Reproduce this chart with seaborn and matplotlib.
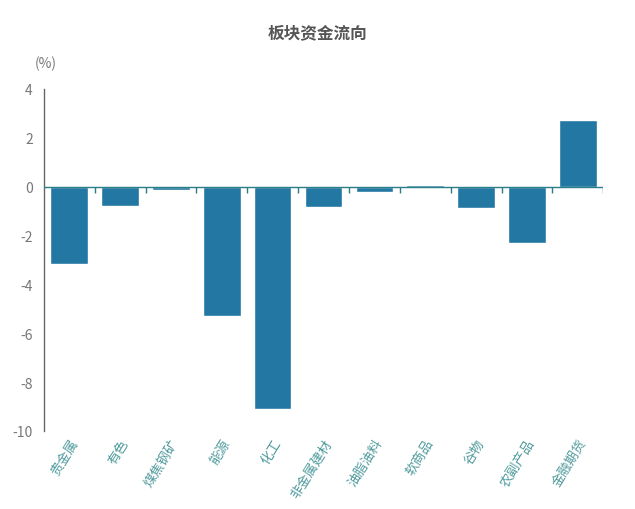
import numpy as np
import pandas as pd
import matplotlib
matplotlib.use('Agg')
import matplotlib.pyplot as plt
import matplotlib.transforms as mtransforms
import seaborn as sns

# data
sectors = ['贵金属', '有色', '煤焦钢矿', '能源', '化工', '非金属建材',
           '油脂油料', '软商品', '谷物', '农副产品', '金融期货']
flows = [-3.18, -0.80, -0.14, -5.28, -9.12, -0.82, -0.22, 0.08, -0.88, -2.30, 2.74]
y_ticks = [-10, -8, -6, -4, -2, 0, 2, 4]

df = pd.DataFrame({'sector': sectors, 'flow': flows})

sns.set_style('white')
plt.rcParams['font.family'] = ['Noto Sans CJK SC', 'DejaVu Sans']
plt.rcParams['axes.unicode_minus'] = False

fig = plt.figure(figsize=(6.35, 5.1), dpi=100)
ax = fig.add_axes([0.069, 0.153, 0.881, 0.671])

sns.barplot(data=df, x='sector', y='flow', color='#2277a3', saturation=1,
            width=0.74, ax=ax)

ax.set_xlim(-0.5, len(sectors) - 0.5)
ax.set_ylim(-10, 4)
ax.set_yticks(y_ticks)
ax.set_xlabel('')
ax.set_ylabel('')

for side in ['top', 'right', 'bottom']:
    ax.spines[side].set_visible(False)
ax.spines['left'].set_color('#666666')
ax.spines['left'].set_linewidth(1)

ax.tick_params(axis='y', length=0, labelsize=10, labelcolor='#777777', pad=8)
ax.tick_params(axis='x', length=0, labelsize=9.5, labelcolor='#4f9a9c', pad=4)
plt.setp(ax.get_xticklabels(), rotation=58, ha='right', rotation_mode='anchor')

# zero line with small ticks at category boundaries
ax.axhline(0, color='#2a7f86', lw=1, zorder=3)
trans = mtransforms.blended_transform_factory(ax.transData, ax.transData)
bounds = np.arange(len(sectors)) + 0.5
ax.vlines(bounds, -0.25, 0, color='#2a7f86', lw=1, transform=trans, zorder=3)

fig.text(0.5, 0.935, '板块资金流向', ha='center', va='center',
         fontsize=12, fontweight='bold', color='#555555')
fig.text(0.072, 0.875, '(%)', ha='center', va='center', fontsize=10, color='#777777')

fig.savefig('out.png', dpi=100)
